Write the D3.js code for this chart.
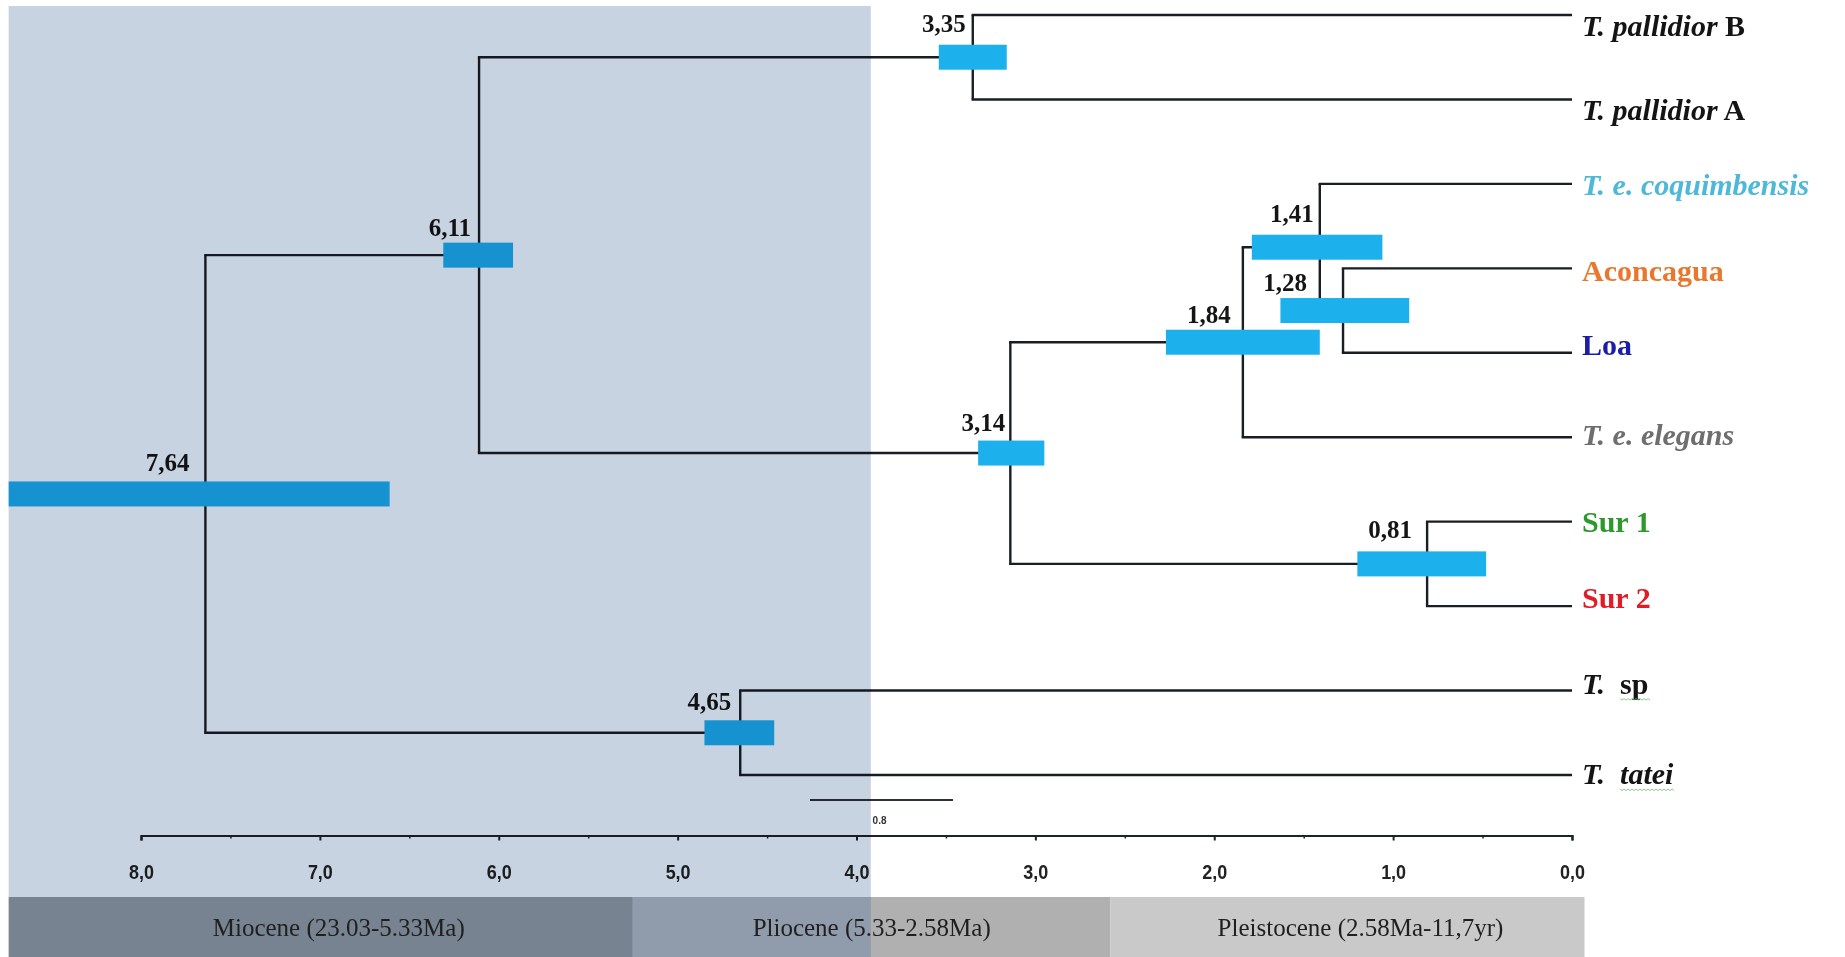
<!DOCTYPE html>
<html><head><meta charset="utf-8">
<script src="https://cdn.jsdelivr.net/npm/d3@7"></script>
<style>body{margin:0;background:#fff}svg{display:block}</style>
</head><body>
<svg id="chart" width="1845" height="957"></svg>
<script>
// ---------- data ----------
const tipNames = ["T. pallidior B","T. pallidior A","T. e. coquimbensis","Aconcagua","Loa","T. e. elegans","Sur 1","Sur 2","T. sp","T. tatei"];
const tipIds = ["t0","t1","t2","t3","t4","t5","t6","t7","t8","t9"];
// node ids, ages (Ma), labels, 95% HPD interval, children
const nodeIds    = ["n0","n1","n2","n3","n4","n5","n6","n7","n8"];
const nodeAges   = [3.35, 1.28, 1.41, 1.84, 0.81, 3.14, 6.11, 4.65, 7.64];
const nodeLabels = ["3,35","1,28","1,41","1,84","0,81","3,14","6,11","4,65","7,64"];
const hpdLow     = [3.16, 0.91, 1.06, 1.41, 0.48, 2.95, 5.92, 4.46, 6.61];
const hpdHigh    = [3.54, 1.63, 1.79, 2.27, 1.20, 3.32, 6.31, 4.85, 8.74];
const nodeKids   = [["t0","t1"],["t3","t4"],["t2","n1"],["n2","t5"],["t6","t7"],["n3","n4"],["n0","n5"],["t8","t9"],["n6","n7"]];
// axis
const axisTicks = [8,7,6,5,4,3,2,1,0];
const axisTickLabels = ["8,0","7,0","6,0","5,0","4,0","3,0","2,0","1,0","0,0"];
const minorTicks = [7.5,6.5,5.5,4.5,3.5,2.5,1.5,0.5];
// epochs
const epochNames = ["Miocene (23.03-5.33Ma)","Pliocene (5.33-2.58Ma)","Pleistocene (2.58Ma-11,7yr)"];
const epochFrom  = [8.74, 5.25, 2.58];
const epochTo    = [5.25, 2.58, -0.07];
const shadeFrom = 8.74, shadeTo = 3.92;
const scaleBarFrom = 4.26, scaleBarLen = 0.8, scaleBarLabel = "0.8";

// ---------- styles ----------
const tipColors = ["#141414","#141414","#4db8d8","#e8782e","#1c1ca6","#6e6e6e","#2c992c","#e21c26","#141414","#141414"];
const tipParts = [
  [{t:"T. pallidior",i:true},{t:" B",i:false}],
  [{t:"T. pallidior",i:true},{t:" A",i:false}],
  [{t:"T. e. coquimbensis",i:true}],
  [{t:"Aconcagua",i:false}],
  [{t:"Loa",i:false}],
  [{t:"T. e. elegans",i:true}],
  [{t:"Sur 1",i:false}],
  [{t:"Sur 2",i:false}],
  [{t:"T.",i:true},{t:"sp",i:false,dx:15,sq:true}],
  [{t:"T.",i:true},{t:"tatei",i:true,dx:15,sq:true}]
];
const labelShift = [21,21,11,13,2,8,10,2,3,9];
// node label gap (px left of node) and vertical nudge
const nodeLabelGap   = [7, 36, 6, 12, 15, 5, 8, 9, 16];
const nodeLabelNudge = [-6, 0, -6, 0, -6, -3, 0, -3, -3];
const serif = "'Liberation Serif','Times New Roman',serif";
const sans = "'Liberation Sans',Arial,sans-serif";

// ---------- scales ----------
const x = d3.scaleLinear().domain([8,0]).range([141,1572]);
const yTip = d3.scalePoint().domain(tipIds).range([15,775]);

const svg = d3.select("#chart");
svg.append("rect").attr("width",1845).attr("height",957).attr("fill","#fff");

const pos = {};
tipIds.forEach(id => pos[id] = {x: x(0), y: yTip(id)});
nodeIds.forEach((id,i) => {
  const ys = nodeKids[i].map(k => pos[k].y);
  pos[id] = {x: x(nodeAges[i]), y: (d3.min(ys)+d3.max(ys))/2};
});

const tree = svg.append("g");
// branches
nodeIds.forEach((id,i) => {
  const p = pos[id];
  const ys = nodeKids[i].map(k => pos[k].y);
  tree.append("line").attr("x1",p.x).attr("x2",p.x).attr("y1",d3.min(ys)).attr("y2",d3.max(ys))
    .attr("stroke","#1a1d24").attr("stroke-width",2.4);
  nodeKids[i].forEach(k => {
    tree.append("line").attr("x1",p.x-1.2).attr("x2",pos[k].x).attr("y1",pos[k].y).attr("y2",pos[k].y)
      .attr("stroke","#1a1d24").attr("stroke-width",2.4);
  });
});
// HPD bars
tree.selectAll("rect.hpd").data(nodeIds).join("rect").attr("class","hpd")
  .attr("x",(d,i)=>x(hpdHigh[i])).attr("width",(d,i)=>x(hpdLow[i])-x(hpdHigh[i]))
  .attr("y",d=>pos[d].y-12.5).attr("height",25).attr("fill","#1cb0ec");
// node labels
tree.selectAll("text.nl").data(nodeIds).join("text").attr("class","nl")
  .attr("x",(d,i)=>pos[d].x-nodeLabelGap[i]).attr("y",(d,i)=>pos[d].y-19.5+nodeLabelNudge[i])
  .attr("text-anchor","end").attr("font-family",serif).attr("font-weight","bold")
  .attr("font-size",25).attr("fill","#151515").text((d,i)=>nodeLabels[i]);

// tip labels
tipIds.forEach((id,i) => {
  const t = tree.append("text").attr("x",x(0)+10).attr("y",pos[id].y+labelShift[i])
    .attr("font-family",serif).attr("font-weight","bold").attr("font-size",30)
    .attr("fill",tipColors[i]).attr("xml:space","preserve");
  tipParts[i].forEach(pt => {
    const ts = t.append("tspan").attr("font-style",pt.i?"italic":"normal").text(pt.t);
    if (pt.dx) ts.attr("dx",pt.dx);
    if (pt.sq) ts.attr("data-sq","1");
  });
  t.selectAll("tspan[data-sq]").each(function(){
    const n = this.getNumberOfChars();
    const s = this.getStartPositionOfChar(0), e = this.getEndPositionOfChar(n-1);
    const yy = pos[id].y + labelShift[i] + 5;
    let dpath = `M${s.x},${yy}`;
    for (let xx = s.x, k=0; xx < e.x; xx += 2, k++) dpath += `L${xx+2},${yy + (k%2?0:1.6)}`;
    tree.append("path").attr("d",dpath).attr("fill","none").attr("stroke","#7fbf7f").attr("stroke-width",0.9);
  });
});

// axis
const axisY = 835.5;
const axG = svg.append("g").attr("transform",`translate(0,${axisY})`)
  .call(d3.axisBottom(x).tickValues(axisTicks).tickSize(5).tickSizeOuter(5)
    .tickFormat((d,i)=>axisTickLabels[i]));
axG.select(".domain").attr("stroke","#1e222a").attr("stroke-width",2.2);
axG.selectAll(".tick line").attr("stroke","#1e222a").attr("stroke-width",2);
axG.selectAll(".tick text").attr("y",43).attr("dy",0).attr("font-family",sans)
  .attr("font-weight","bold").attr("font-size",21).attr("fill","#222")
  .attr("textLength",25).attr("lengthAdjust","spacingAndGlyphs");
const mn = svg.append("g").attr("transform",`translate(0,${axisY})`)
  .call(d3.axisBottom(x).tickValues(minorTicks).tickSize(3).tickFormat(""));
mn.select(".domain").remove();
mn.selectAll(".tick line").attr("stroke","#1e222a").attr("stroke-width",1.5);

// scale bar
svg.append("line").attr("x1",x(scaleBarFrom)).attr("x2",x(scaleBarFrom-scaleBarLen))
  .attr("y1",800).attr("y2",800).attr("stroke","#2c323c").attr("stroke-width",2);
svg.append("text").attr("x",(x(scaleBarFrom)+x(scaleBarFrom-scaleBarLen))/2-2).attr("y",824)
  .attr("text-anchor","middle").attr("font-family",sans).attr("font-weight","bold")
  .attr("font-size",10).attr("fill","#333").text(scaleBarLabel);

// shaded period overlay (multiply)
svg.append("rect").attr("x",x(shadeFrom)).attr("y",6).attr("width",x(shadeTo)-x(shadeFrom)).attr("height",891)
  .attr("fill","#c8d3e1").style("mix-blend-mode","multiply");

// epoch bar
const epochColors = ["#778391","#b0b0b0","#c9c9c9"];
const ep = svg.append("g");
ep.selectAll("rect").data(epochNames).join("rect")
  .attr("x",(d,i)=>x(epochFrom[i])).attr("width",(d,i)=>x(epochTo[i])-x(epochFrom[i]))
  .attr("y",897).attr("height",60).attr("fill",(d,i)=>epochColors[i]);
ep.append("rect").attr("x",x(epochFrom[1])).attr("width",x(shadeTo)-x(epochFrom[1]))
  .attr("y",897).attr("height",60).attr("fill","#909cac");
ep.selectAll("text").data(epochNames).join("text")
  .attr("x",(d,i)=>(x(epochFrom[i])+x(epochTo[i]))/2+ (i===0?18:(i===2?13:0)))
  .attr("y",936).attr("text-anchor","middle").attr("font-family",serif).attr("font-size",25)
  .attr("fill","#1f1f1f").text(d=>d);
</script>
</body></html>
